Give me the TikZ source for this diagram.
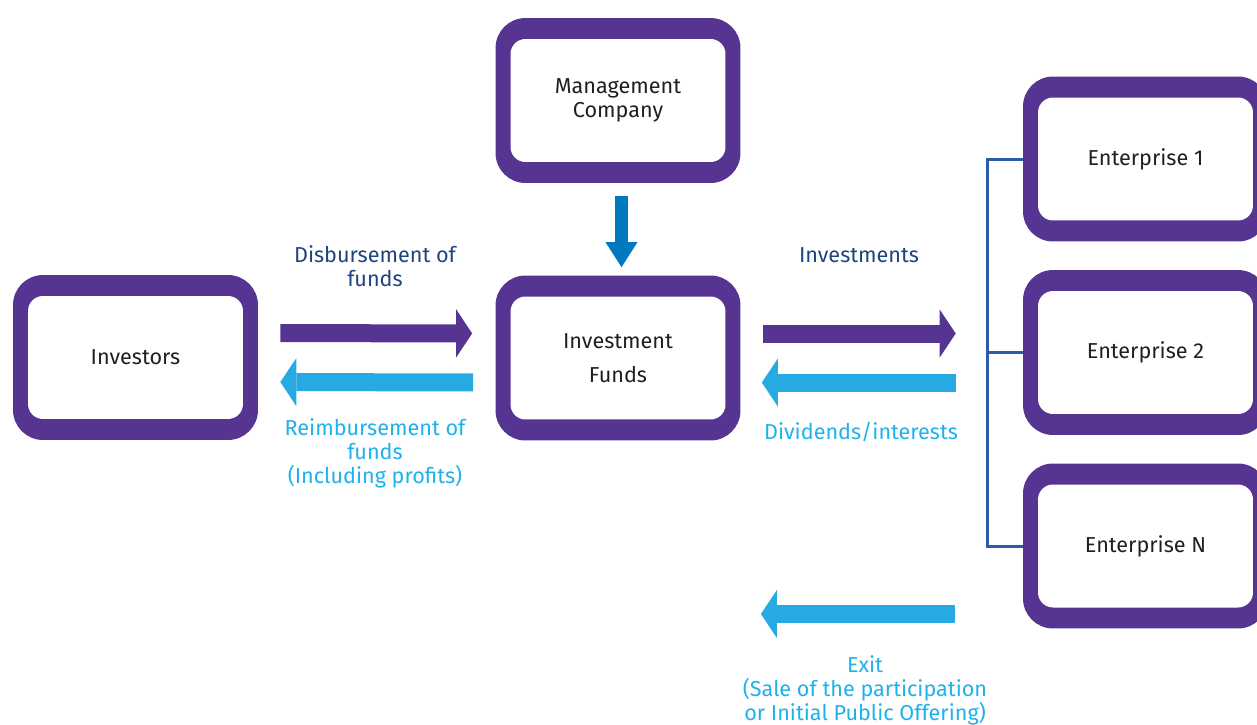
\documentclass[tikz,border=0pt]{standalone}
\usepackage{fontspec}
\setmainfont{Fira Sans}
\usetikzlibrary{arrows.meta}

\definecolor{boxpurple}{HTML}{563592}
\definecolor{boxtext}{HTML}{231F20}
\definecolor{flowcyan}{HTML}{27A9E1}
\definecolor{flowblue}{HTML}{0079C1}
\definecolor{labelnavy}{HTML}{1D4480}
\definecolor{labelcyan}{HTML}{1FB1EC}
\definecolor{bracketblue}{HTML}{2E5BA8}
\newcommand{\diagfont}{\fontsize{12.3}{13.6}\selectfont}

\begin{document}
\begin{tikzpicture}[x=0.02cm,y=-0.02cm]
        \tikzset{box/.style = {shape=rectangle, fill=boxpurple, rounded corners=0.6cm,
            minimum width=4.9cm, minimum height=3.3cm, align=center, text=boxtext, font=\diagfont,
            path picture={\fill[white, rounded corners=0.3cm]
              ([xshift=0.3cm,yshift=-0.42cm]path picture bounding box.north west) rectangle
              ([xshift=-0.3cm,yshift=0.42cm]path picture bounding box.south east);}}}
        \tikzset{flow/.style = {line width=0.36cm, -{Triangle[length=0.32cm,width=0.96cm,line width=0pt]}}}
        \tikzset{bracket/.style = {draw=bracketblue, line width=0.06cm}}
        \tikzset{navylabel/.style = {align=center, text=labelnavy, font=\diagfont}}
        \tikzset{cyanlabel/.style = {align=center, text=labelcyan, font=\diagfont}}
        \useasboundingbox (0,0) rectangle (1257,724);
        % boxes
        \node[box] (mgmt) at (618,100.5) {Management\\Company};
        \node[box] (inv) at (135.5,357.5) {Investors};
        \node[box] (fund) at (618,358) {Investment\\[5.5pt]Funds};
        \node[box] (e1) at (1145.5,159) {Enterprise 1};
        \node[box] (e2) at (1145.5,352.5) {Enterprise 2};
        \node[box] (eN) at (1145.5,546) {Enterprise N};
        % bracket
        \coordinate (bus) at (987,352.5);
        \draw[bracket] (e1.west) -| (bus) |- (eN.west);
        \draw[bracket] (e2.west) -- (e2.west -| bus);
        % flows
        \draw[flow, flowblue, line width=0.26cm, -{Triangle[length=0.5cm,width=0.64cm,line width=0pt]},
              shorten <=0.26cm, shorten >=0.16cm] ([xshift=0.07cm]mgmt.south) -- ([xshift=0.07cm]fund.north);
        \draw[flow, boxpurple, shorten <=0.44cm, shorten >=0.46cm] ([yshift=0.49cm]inv.east) -- ([yshift=0.49cm]fund.west);
        \draw[flow, flowcyan, shorten <=0.44cm, shorten >=0.44cm] ([yshift=-0.49cm]fund.west) -- ([yshift=-0.49cm]inv.east);
        \draw[flow, boxpurple, shorten <=0.44cm, shorten >=1.34cm] ([yshift=0.49cm]fund.east) -- ([yshift=0.49cm]fund.east -| e2.west);
        \draw[flow, flowcyan, shorten <=1.34cm, shorten >=0.42cm] ([yshift=-0.49cm]fund.east -| e2.west) -- ([yshift=-0.49cm]fund.east);
        \draw[flow, flowcyan, shorten <=1.36cm, shorten >=0.4cm] ([yshift=-1.36cm]eN.west) -- ([yshift=-1.36cm]eN.west -| fund.east);
        % labels
        \node[navylabel] (disb) at (375,266) {Disbursement of\\funds};
        \node[cyanlabel] (reimb) at (375,453.5) {Reimbursement of\\funds\\(Including profits)};
        \node[navylabel] (invest) at (859,255) {Investments};
        \node[cyanlabel] (divid) at (861,432) {Dividends/interests};
        \node[cyanlabel] (exit) at (865,690) {Exit\\(Sale of the participation\\or Initial Public Offering)};
\end{tikzpicture}
\end{document}
